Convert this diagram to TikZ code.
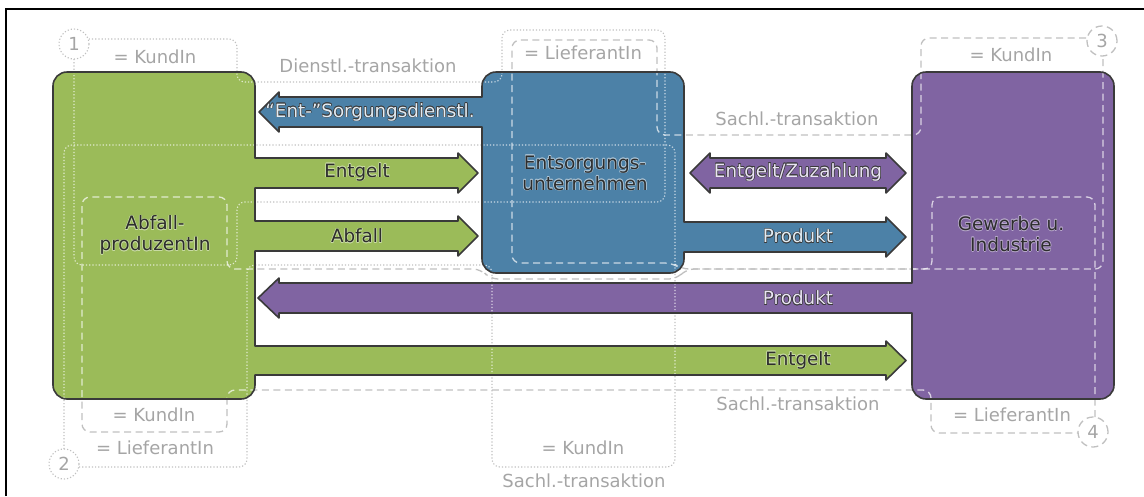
\documentclass[tikz,border=0pt]{standalone}
\usepackage{fontspec}
\setmainfont{DejaVu Sans}
\usepackage{tikz}

\definecolor{abfallgreen}{RGB}{155,187,89}
\definecolor{entsorgblue}{RGB}{76,129,167}
\definecolor{gewerbeviolet}{RGB}{128,100,162}
\definecolor{rimgray}{RGB}{58,58,58}
\definecolor{rolegray}{RGB}{192,192,192}
\definecolor{tagtext}{RGB}{165,165,165}
\definecolor{darktext}{RGB}{45,45,45}
\definecolor{bluelight}{RGB}{226,236,244}
\definecolor{violetlight}{RGB}{234,228,244}

% text with a thin rim: rim colour, text colour, text
\newcommand\rimmed[3]{%
  \rlap{\color{#1}%
    \rlap{\kern.6pt#3}\rlap{\kern-.6pt#3}%
    \rlap{\raisebox{.6pt}{#3}}\rlap{\raisebox{-.6pt}{#3}}%
    \rlap{\kern.45pt\raisebox{.45pt}{#3}}\rlap{\kern-.45pt\raisebox{.45pt}{#3}}%
    \rlap{\kern.45pt\raisebox{-.45pt}{#3}}\rlap{\kern-.45pt\raisebox{-.45pt}{#3}}}%
  \textcolor{#2}{#3}}

% outlines of the three parties, arrows included (units: px, y down)
\newcommand\abfallpath{(53,86) arc[start angle=180,end angle=270,radius=14] -- (241,72) arc[start angle=270,end angle=360,radius=14]
  -- (255,158) -- (458,158) -- (458,153) -- (478,173) -- (458,193) -- (458,188) -- (255,188)
  -- (255,221) -- (458,221) -- (458,216) -- (478,236) -- (458,256) -- (458,251) -- (255,251)
  -- (255,346) -- (886,346) -- (886,341) -- (906,360.5) -- (886,380) -- (886,375) -- (255,375)
  -- (255,385) arc[start angle=0,end angle=90,radius=14] -- (67,399) arc[start angle=90,end angle=180,radius=14] -- cycle}
\newcommand\entsorgerpath{(482,86) arc[start angle=180,end angle=270,radius=14] -- (670,72) arc[start angle=270,end angle=360,radius=14]
  -- (684,222) -- (886,222) -- (886,217) -- (906,237) -- (886,257) -- (886,252) -- (684,252)
  -- (684,259) arc[start angle=0,end angle=90,radius=14] -- (496,273) arc[start angle=90,end angle=180,radius=14]
  -- (482,127) -- (279,127) -- (279,132) -- (259,112) -- (279,92) -- (279,97) -- (482,97) -- cycle}
\newcommand\gewerbepath{(912,86) arc[start angle=180,end angle=270,radius=14] -- (1100,72) arc[start angle=270,end angle=360,radius=14]
  -- (1114,385) arc[start angle=0,end angle=90,radius=14] -- (926,399) arc[start angle=90,end angle=180,radius=14]
  -- (912,313) -- (279,313) -- (279,318) -- (258,298) -- (279,278) -- (279,283) -- (912,283) -- cycle}
\newcommand\zuzahlungpath{(690,173) -- (710,153) -- (710,158) -- (886,158) -- (886,153) -- (906,173)
  -- (886,193) -- (886,188) -- (710,188) -- (710,193) -- cycle}

% the four role borders
\newcommand\rolelines{%
  \draw[dotrole] (74,59) -- (74,265) -- (237,265) -- (237,202) -- (665,202) -- (665,30) -- (502,30)
    -- (502,82) -- (237,82) -- (237,39) -- (89,39);
  \draw[dotrole] (64,449) -- (64,145) -- (675,145) -- (675,467) -- (492,467) -- (492,265) -- (247,265)
    -- (247,467) -- (79,467);
  \draw[dashrole] (1086,38) -- (921,38) -- (921,135) -- (657,135) -- (657,40) -- (512,40) -- (512,263)
    -- (673,263) -- (681,269) -- (1103,269) -- (1103,57);
  \draw[dashrole] (1095,417) -- (1095,197) -- (932,197) -- (932,269) -- (686,269) -- (677,279) -- (490,279)
    -- (481,269) -- (227,269) -- (227,197) -- (82,197) -- (82,432) -- (227,432) -- (227,390) -- (931,390)
    -- (931,433) -- (1078,433);
}

\begin{document}
\begin{tikzpicture}[
    x=1pt, y=-1pt,
    rolelook/.style={draw=rolegray},
    dotrole/.style={rolelook, line width=1.1pt, dash pattern=on 1.2pt off 2pt, rounded corners=8pt},
    dashrole/.style={rolelook, line width=1.3pt, dash pattern=on 7pt off 4.5pt, rounded corners=8pt},
    party/.style={draw=rimgray, line width=1.6pt, line join=round},
    ring/.style={circle, minimum size=30pt, inner sep=0pt, text=tagtext, font=\fontsize{18}{21}\selectfont},
    tag/.style={text=tagtext, font=\fontsize{18}{21}\selectfont, inner sep=0pt},
    flowtag/.style={font=\fontsize{18.3}{21}\selectfont, inner sep=0pt},
    partytag/.style={font=\fontsize{18.5}{21}\selectfont, align=center, inner sep=0pt}
]
\useasboundingbox (0,0) rectangle (1144,496);
\draw[line width=2pt] (6,496) -- (6,9) -- (1144,9);

% role borders on white
\rolelines
\node[ring, dotrole] (num1) at (74,44) {1};
\node[ring, dotrole] (num2) at (64,464) {2};
\node[ring, dashrole] (num3) at (1102,41) {3};
\node[ring, dashrole] (num4) at (1093,432) {4};

% parties
\fill[abfallgreen] \abfallpath;
\fill[entsorgblue] \entsorgerpath;
\fill[gewerbeviolet] \gewerbepath;
\fill[gewerbeviolet] \zuzahlungpath;

% role borders seen through the parties
\begin{scope}[rolelook/.style={draw=white, draw opacity=.7}]
  \clip \abfallpath;
  \rolelines
\end{scope}
\begin{scope}[rolelook/.style={draw=white, draw opacity=.7}]
  \clip \entsorgerpath;
  \rolelines
\end{scope}
\begin{scope}[rolelook/.style={draw=white, draw opacity=.7}]
  \clip \gewerbepath;
  \rolelines
\end{scope}

\draw[party] \abfallpath;
\draw[party] \entsorgerpath;
\draw[party] \gewerbepath;
\draw[party] \zuzahlungpath;

% role tags
\node[tag] (kunde1) at (155,57) {= KundIn};
\node[tag] (dienstl) at (368,66) {Dienstl.-transaktion};
\node[tag] (liefer1) at (583,53) {= LieferantIn};
\node[tag] (kunde3) at (1011,55) {= KundIn};
\node[tag] (sachl1) at (797,119) {Sachl.-transaktion};
\node[tag] (sachl2) at (798,404) {Sachl.-transaktion};
\node[tag] (liefer4) at (1012,415) {= LieferantIn};
\node[tag] (kunde2) at (154,415) {= KundIn};
\node[tag] (liefer2) at (155,448) {= LieferantIn};
\node[tag] (kunde4) at (583,448) {= KundIn};
\node[tag] (sachl3) at (584,481) {Sachl.-transaktion};

% flow labels
\node[flowtag] (sorgung) at (370,112) {\rimmed{rimgray}{bluelight}{“Ent-”Sorgungsdienstl.}};
\node[flowtag] (entgelt1) at (357,172) {\rimmed{white!45!abfallgreen}{darktext}{Entgelt}};
\node[flowtag] (abfall) at (357,236) {\rimmed{white!45!abfallgreen}{darktext}{Abfall}};
\node[flowtag] (zuzahlung) at (798,172) {\rimmed{rimgray}{violetlight}{Entgelt/Zuzahlung}};
\node[flowtag] (produkt1) at (798,236) {\rimmed{rimgray}{bluelight}{Produkt}};
\node[flowtag] (produkt2) at (798,298) {\rimmed{rimgray}{violetlight}{Produkt}};
\node[flowtag] (entgelt2) at (798,360) {\rimmed{white!45!abfallgreen}{darktext}{Entgelt}};

% party names
\node[partytag] (produzent) at (155,235)
  {\rimmed{white!45!abfallgreen}{darktext}{Abfall-}\\\rimmed{white!45!abfallgreen}{darktext}{produzentIn}};
\node[partytag] (entsorger) at (585,173)
  {\rimmed{white!55!entsorgblue}{darktext}{Entsorgungs-}\\\rimmed{white!55!entsorgblue}{darktext}{unternehmen}};
\node[partytag] (gewerbe) at (1011,234)
  {\rimmed{white!45!gewerbeviolet}{darktext}{Gewerbe u.}\\\rimmed{white!45!gewerbeviolet}{darktext}{Industrie}};
\end{tikzpicture}
\end{document}
